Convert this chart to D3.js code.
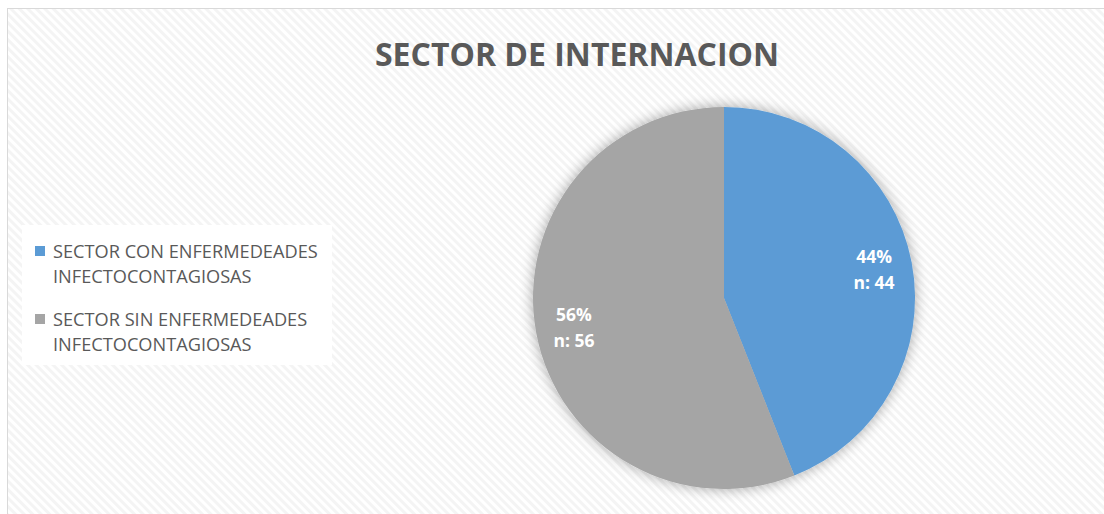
<!DOCTYPE html>
<html>
<head>
<meta charset="utf-8">
<script src="https://cdn.jsdelivr.net/npm/d3@7"></script>
<style>
  body { margin: 0; background: #fff; }
  text { font-family: "Open Sans", "Noto Sans", sans-serif; }
</style>
</head>
<body>
<div id="container"></div>
<script>
var categories = ["SECTOR CON ENFERMEDEADES INFECTOCONTAGIOSAS", "SECTOR SIN ENFERMEDEADES INFECTOCONTAGIOSAS"];
var legendLines = [["SECTOR CON ENFERMEDEADES", "INFECTOCONTAGIOSAS"], ["SECTOR SIN ENFERMEDEADES", "INFECTOCONTAGIOSAS"]];
var counts = [44, 56];
var colors = ["#5b9bd5", "#a5a5a5"];
var title = "SECTOR DE INTERNACION";

var width = 1104, height = 514;

var svg = d3.select("#container")
    .append("svg")
    .attr("width", width)
    .attr("height", height);

var defs = svg.append("defs");

// diagonal stripe background
var pat = defs.append("pattern")
    .attr("id", "stripes")
    .attr("patternUnits", "userSpaceOnUse")
    .attr("width", 6)
    .attr("height", 6)
    .attr("patternTransform", "rotate(-45)");
pat.append("rect").attr("width", 6).attr("height", 6).attr("fill", "#ffffff");
pat.append("rect").attr("width", 3).attr("height", 6).attr("fill", "#f4f4f4");

var shadow = defs.append("filter")
    .attr("id", "shadow")
    .attr("x", "-20%").attr("y", "-20%")
    .attr("width", "140%").attr("height", "140%");
shadow.append("feGaussianBlur").attr("in", "SourceAlpha").attr("stdDeviation", 7).attr("result", "blur");
shadow.append("feComponentTransfer").attr("in", "blur").attr("result", "soft")
    .append("feFuncA").attr("type", "linear").attr("slope", 0.35);
var merge = shadow.append("feMerge");
merge.append("feMergeNode").attr("in", "soft");
merge.append("feMergeNode").attr("in", "SourceGraphic");

svg.append("rect")
    .attr("x", 7.5).attr("y", 8.5)
    .attr("width", width + 10).attr("height", height + 10)
    .attr("fill", "url(#stripes)")
    .attr("stroke", "#d9d9d9")
    .attr("stroke-width", 1);

svg.append("text")
    .attr("x", 577)
    .attr("y", 66)
    .attr("text-anchor", "middle")
    .attr("font-size", 32)
    .attr("font-weight", "bold")
    .attr("fill", "#595959")
    .text(title);

// pie
var cx = 724, cy = 298, r = 191;
var total = d3.sum(counts);
var pie = d3.pie().sort(null).value(function (d) { return d; });
var arc = d3.arc().innerRadius(0).outerRadius(r);
var arcs = pie(counts);

var g = svg.append("g").attr("transform", "translate(" + cx + "," + cy + ")");

g.append("g")
    .attr("filter", "url(#shadow)")
    .selectAll("path")
    .data(arcs)
    .enter()
    .append("path")
    .attr("d", arc)
    .attr("fill", function (d, i) { return colors[i]; });

var labelArc = d3.arc().innerRadius(r * 0.8).outerRadius(r * 0.8);
var labels = g.selectAll("g.lbl")
    .data(arcs)
    .enter()
    .append("g")
    .attr("class", "lbl")
    .attr("transform", function (d) {
        var c = labelArc.centroid(d);
        return "translate(" + c[0] + "," + c[1] + ")";
    });
labels.append("text")
    .attr("text-anchor", "middle")
    .attr("y", -6)
    .attr("font-size", 17.5)
    .attr("font-weight", "bold")
    .attr("fill", "#ffffff")
    .text(function (d) { return Math.round(d.data / total * 100) + "%"; });
labels.append("text")
    .attr("text-anchor", "middle")
    .attr("y", 20)
    .attr("font-size", 17.5)
    .attr("font-weight", "bold")
    .attr("fill", "#ffffff")
    .text(function (d) { return "n: " + d.data; });

// legend
var legend = svg.append("g").attr("transform", "translate(22,225)");
legend.append("rect")
    .attr("width", 310).attr("height", 140)
    .attr("fill", "#ffffff");

var items = legend.selectAll("g.item")
    .data(categories)
    .enter()
    .append("g")
    .attr("class", "item")
    .attr("transform", function (d, i) { return "translate(0," + (i * 68) + ")"; });
items.append("rect")
    .attr("x", 13).attr("y", 21)
    .attr("width", 10).attr("height", 10)
    .attr("fill", function (d, i) { return colors[i]; });
items.append("text")
    .attr("x", 31)
    .attr("font-size", 18.2)
    .attr("fill", "#595959")
    .selectAll("tspan")
    .data(function (d, i) { return legendLines[i]; })
    .enter()
    .append("tspan")
    .attr("x", 31)
    .attr("y", function (d, j) { return 33 + j * 25; })
    .text(function (d) { return d; });
</script>
</body>
</html>
